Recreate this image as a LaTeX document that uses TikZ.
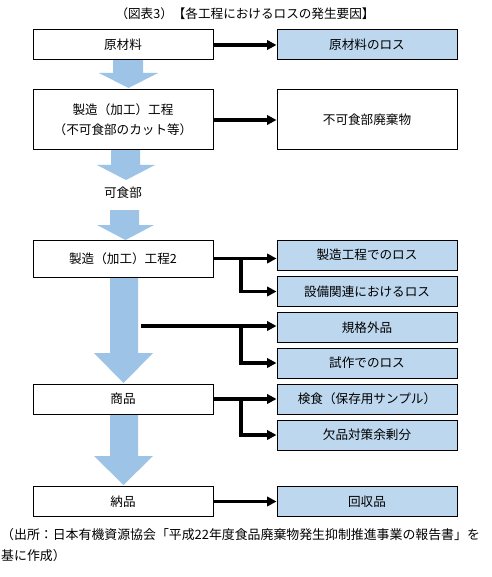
\documentclass[tikz,border=0pt]{standalone}
\usepackage{fontspec}
\setmainfont{Noto Sans CJK JP}
\usetikzlibrary{arrows.meta}
\definecolor{boxblue}{HTML}{BDD7EE}
\definecolor{arrblue}{HTML}{9DC3E6}
\begin{document}
\begin{tikzpicture}[x=1pt,y=-1pt,
  every node/.style={font=\fontsize{12.6}{15}\selectfont, inner sep=0pt},
  lbox/.style={draw=black, line width=1pt, minimum width=180pt, fill=white, align=center},
  rbox/.style={draw=black, line width=1pt, minimum width=180pt, minimum height=30pt, fill=boxblue},
  conn/.style={line width=3.2pt, -{Triangle[length=9.5pt,width=9.5pt]}},
]
\useasboundingbox[fill=white] (0,0) rectangle (491,577);
% big flow arrows
\fill[arrblue] (113,60) -- (143,60) -- (143,73) -- (158,73) -- (128.5,88) -- (99,73) -- (113,73) -- cycle;
\fill[arrblue] (111,150) -- (140,150) -- (140,165) -- (155,165) -- (126,180) -- (97,165) -- (111,165) -- cycle;
\fill[arrblue] (110,210) -- (139,210) -- (139,225) -- (154,225) -- (125.5,240) -- (97,225) -- (110,225) -- cycle;
\fill[arrblue] (110,277) -- (138,277) -- (138,353) -- (153,353) -- (123.5,383) -- (94,353) -- (110,353) -- cycle;
\fill[arrblue] (110,414) -- (138,414) -- (138,456) -- (153,456) -- (123.5,485) -- (94,456) -- (110,456) -- cycle;

% title
\node (title) at (245,14) {（図表3）【各工程におけるロスの発生要因】};

% left boxes
\node[lbox, minimum height=30pt] (l1) at (123,45) {原材料};
\node[lbox, minimum height=60pt, font=\fontsize{12.6}{20}\selectfont] (l2) at (123,120) {製造（加工）工程\\（不可食部のカット等）};
\node (kasyoku) at (123,193) {可食部};
\node[lbox, minimum height=37pt] (l3) at (123,258.5) {製造（加工）工程2};
\node[lbox, minimum height=30pt] (l4) at (123,399) {商品};
\node[lbox, minimum height=30pt] (l5) at (123,501.5) {納品};

% right boxes
\node[rbox] (r1) at (367,45) {原材料のロス};
\node[rbox, fill=white, minimum height=60pt] (r2) at (367,120) {不可食部廃棄物};
\node[rbox] (r3) at (367,255) {製造工程でのロス};
\node[rbox] (r4) at (367,291.5) {設備関連におけるロス};
\node[rbox] (r5) at (367,327.5) {規格外品};
\node[rbox] (r6) at (367,363) {試作でのロス};
\node[rbox] (r7) at (367,399) {検食（保存用サンプル）};
\node[rbox] (r8) at (367,435) {欠品対策余剰分};
\node[rbox] (r9) at (367,501.5) {回収品};

% connectors
\draw[conn] (l1.east) -- (r1.west);
\draw[conn] (l2.east) -- (r2.west);
\draw[conn] (l3.east) -- (l3.east -| r3.west);
\coordinate (b3) at (241,258.5);
\draw[conn] (b3) |- (r4.west);
\coordinate (s5) at (141,326);
\draw[conn] (s5) -- (s5 -| r5.west);
\coordinate (b5) at (241,326);
\draw[conn] (b5) |- (r6.west);
\draw[conn] (l4.east) -- (r7.west);
\coordinate (b7) at (241,399);
\draw[conn] (b7) |- (r8.west);
\draw[conn] (l5.east) -- (r9.west);

% footnote
\node[anchor=west, font=\fontsize{12.9}{15}\selectfont] (src1) at (1,535) {（出所：日本有機資源協会「平成22年度食品廃棄物発生抑制推進事業の報告書」を};
\node[anchor=west, font=\fontsize{12.9}{15}\selectfont] (src2) at (1,556) {基に作成）};
\end{tikzpicture}
\end{document}
